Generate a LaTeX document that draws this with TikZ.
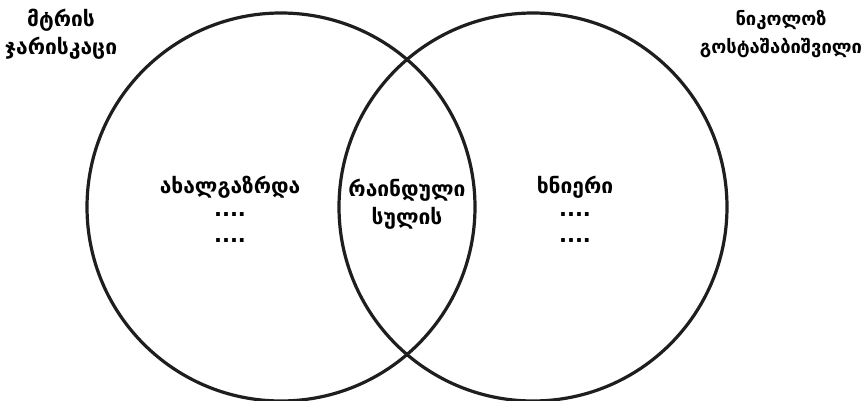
\documentclass[tikz,border=0pt]{standalone}
\usepackage{fontspec}
\setmainfont{DejaVu Sans}
\usetikzlibrary{positioning}
\definecolor{RingInk}{RGB}{30,30,30}
\tikzset{
  ring/.style={circle,draw=RingInk,line width=1.6pt,minimum size=194pt,inner sep=0pt},
  label/.style={align=center,font=\fontsize{10.5}{14}\selectfont\bfseries,text=black},
  dots/.style={align=center,font=\fontsize{10.5}{13}\selectfont\bfseries,text=black}
}
\begin{document}
\begin{tikzpicture}[x=0.5pt,y=-0.5pt]
  \useasboundingbox (0,0) rectangle (862,401);
  \node[ring] (young) at (281,207) {};
  \node[ring] (old) at (533,207) {};
  \node[label] (enemy) at (61,34) {მტრის\\ჯარისკაცი};
  \node[label,font=\fontsize{9.2}{14}\selectfont\bfseries] (nikoloz) at (781,34) {ნიკოლოზ\\გოსტაშაბიშვილი};
  \node[label] (youth) at (230,187) {ახალგაზრდა};
  \node[dots,below=0pt of youth] (youthdots) {....\\....};
  \node[label] (knight) at (407,204) {რაინდული\\სულის};
  \node[label] (aged) at (575,187) {ხნიერი};
  \node[dots,below=0pt of aged] (ageddots) {....\\....};
\end{tikzpicture}
\end{document}
